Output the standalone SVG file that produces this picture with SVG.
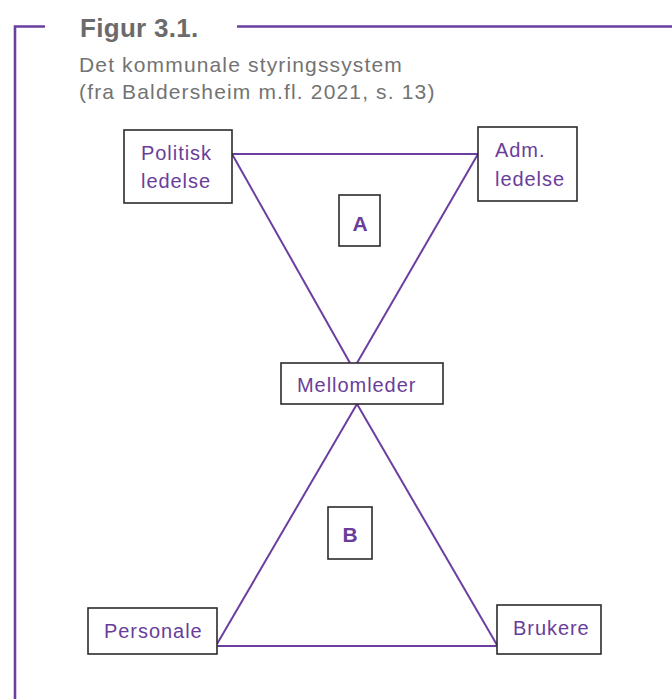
<svg xmlns="http://www.w3.org/2000/svg" width="672" height="699" viewBox="0 0 672 699">
<style>
.frame{fill:none;stroke:#6b3fa0;stroke-width:2.6}
.box{fill:#fff;stroke:#2b2b2b;stroke-width:1.6}
.edge{fill:none;stroke:#6b3fa0;stroke-width:2}
.lbl{font-family:"Liberation Sans",Arial,sans-serif;font-size:20px;fill:#6a3d9a;letter-spacing:0.95px}
.tag{font-family:"Liberation Sans",Arial,sans-serif;font-size:21px;font-weight:bold;fill:#6a3d9a;text-anchor:middle}
.title{font-family:"Liberation Sans",Arial,sans-serif;font-size:26px;font-weight:bold;fill:#6b6b6b;letter-spacing:0.3px}
.sub{font-family:"Liberation Sans",Arial,sans-serif;font-size:21px;fill:#737373;letter-spacing:1.15px}
</style>
<rect width="672" height="699" fill="#fff"/>
<g id="frame">
<path class="frame" d="M15,699 V26.5 H45 M237,26.5 H672"/>
<text class="title" x="80" y="37">Figur 3.1.</text>
<text class="sub" x="79" y="72">Det kommunale styringssystem</text>
<text class="sub" x="79" y="99">(fra Baldersheim m.fl. 2021, s. 13)</text>
</g>
<g id="connectors">
<line class="edge" x1="232" y1="154" x2="478" y2="154"/>
<line class="edge" x1="232" y1="154" x2="350" y2="363"/>
<line class="edge" x1="478" y1="154" x2="357" y2="363"/>
<line class="edge" x1="357" y1="404" x2="217" y2="644"/>
<line class="edge" x1="357" y1="404" x2="497" y2="645"/>
<line class="edge" x1="217" y1="646" x2="497" y2="646"/>
</g>
<g id="politisk">
<rect class="box" x="124" y="130" width="108" height="73"/>
<text class="lbl" x="141" y="160">Politisk</text>
<text class="lbl" x="141" y="188">ledelse</text>
</g>
<g id="adm">
<rect class="box" x="478" y="127" width="99" height="74"/>
<text class="lbl" x="495" y="157">Adm.</text>
<text class="lbl" x="495" y="186">ledelse</text>
</g>
<g id="A">
<rect class="box" x="339" y="195" width="41" height="51"/>
<text class="tag" x="360" y="231">A</text>
</g>
<g id="mellomleder">
<rect class="box" x="281" y="363" width="162" height="41"/>
<text class="lbl" x="297" y="392">Mellomleder</text>
</g>
<g id="B">
<rect class="box" x="328" y="507" width="44" height="52"/>
<text class="tag" x="350" y="542">B</text>
</g>
<g id="personale">
<rect class="box" x="88" y="608" width="129" height="46"/>
<text class="lbl" x="104" y="638">Personale</text>
</g>
<g id="brukere">
<rect class="box" x="497" y="605" width="104" height="49"/>
<text class="lbl" x="513" y="635">Brukere</text>
</g>
</svg>
